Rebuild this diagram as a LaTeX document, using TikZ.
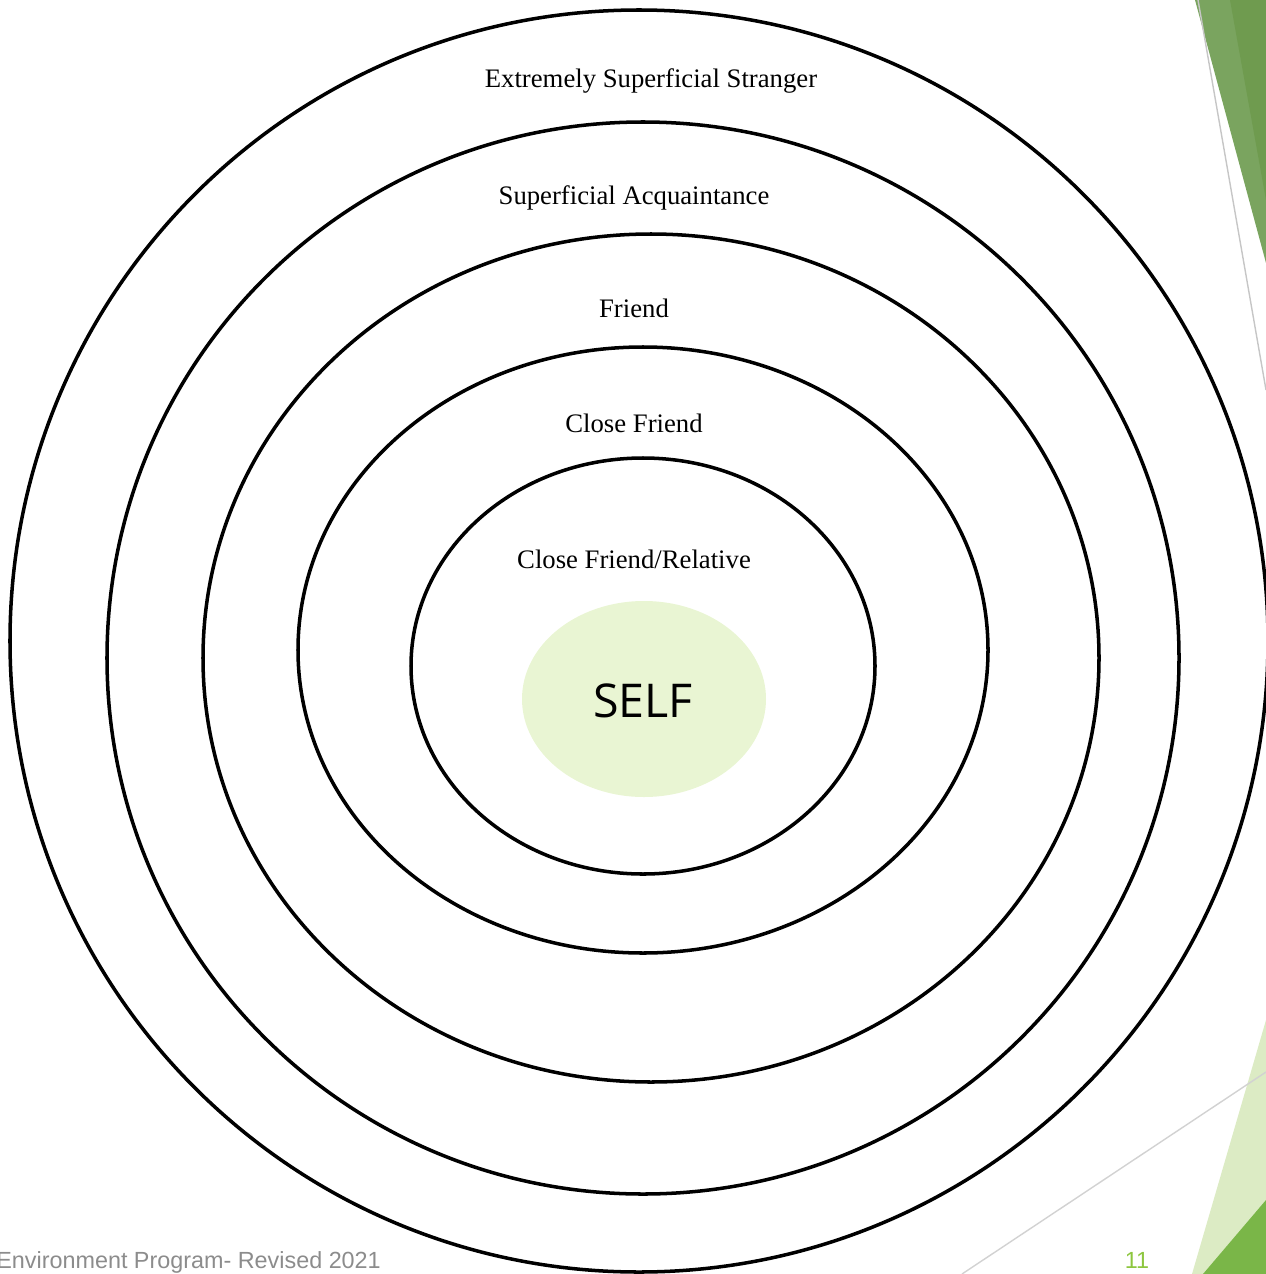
\documentclass[tikz,border=0pt]{standalone}
\usepackage{fontspec}
\setmainfont{Liberation Serif}
\newfontfamily\selffont{Open Sans}
\newfontfamily\footfont{Liberation Sans}
\definecolor{selfgreen}{HTML}{E9F5D3}
\definecolor{leafdark}{HTML}{6F9B4F}
\definecolor{leaflight}{HTML}{7AA45F}
\definecolor{palegreen}{HTML}{DCEBC4}
\definecolor{grassgreen}{HTML}{7AB648}
\definecolor{numgreen}{HTML}{8DC63F}
\definecolor{footgray}{HTML}{8C8C8C}

\begin{document}
\begin{tikzpicture}[x=0.02cm, y=0.02cm,
    ring/.style={draw=black, line width=2pt},
    ringlabel/.style={anchor=base, inner sep=0pt, font=\fontsize{15.2}{18}\selectfont},
    footer/.style={anchor=base, inner sep=0pt, font=\footfont\fontsize{13.3}{16}\selectfont}]
    \useasboundingbox (0,0) rectangle (1266,-1274);
    \clip (0,0) rectangle (1266,-1274);

    % corner decoration
    \fill[leaflight] (1195,0) -- (1266,0) -- (1266,-263) -- cycle;
    \fill[leafdark] (1230,0) -- (1266,0) -- (1266,-200) -- cycle;
    \draw[color=gray!45, line width=0.8pt] (1198,0) -- (1266,-390);
    \fill[palegreen] (1192,-1274) -- (1266,-1020) -- (1266,-1274) -- cycle;
    \fill[grassgreen] (1203,-1274) -- (1266,-1200) -- (1266,-1274) -- cycle;
    \draw[color=gray!35, line width=0.8pt] (962,-1274) -- (1266,-1072);

    % rings
    \draw[ring] (639,-641) ellipse (629 and 631);
    \draw[ring] (643,-658) ellipse (536 and 536);
    \draw[ring] (651,-658) ellipse (448 and 424);
    \draw[ring] (643,-650) ellipse (345 and 303);
    \draw[ring] (643,-666) ellipse (232 and 208);

    \fill[selfgreen] (644,-699) ellipse (122 and 98);

    \node[ringlabel] (stranger) at (651,-88) {Extremely Superficial Stranger};
    \node[ringlabel] (acquaint) at (634,-204) {Superficial Acquaintance};
    \node[ringlabel] (friend) at (634,-317) {Friend};
    \node[ringlabel] (close) at (634,-432) {Close Friend};
    \node[ringlabel] (relative) at (634,-568) {Close Friend/Relative};
    \node[anchor=base, inner sep=0pt, font=\selffont\fontsize{26.5}{31}\selectfont] (self) at (643,-717) {SELF};

    \node[footer, anchor=base west, text=footgray] (program) at (-4,-1268) {Environment Program- Revised 2021};
    \node[footer, text=numgreen] (page) at (1137,-1268) {11};
\end{tikzpicture}
\end{document}
